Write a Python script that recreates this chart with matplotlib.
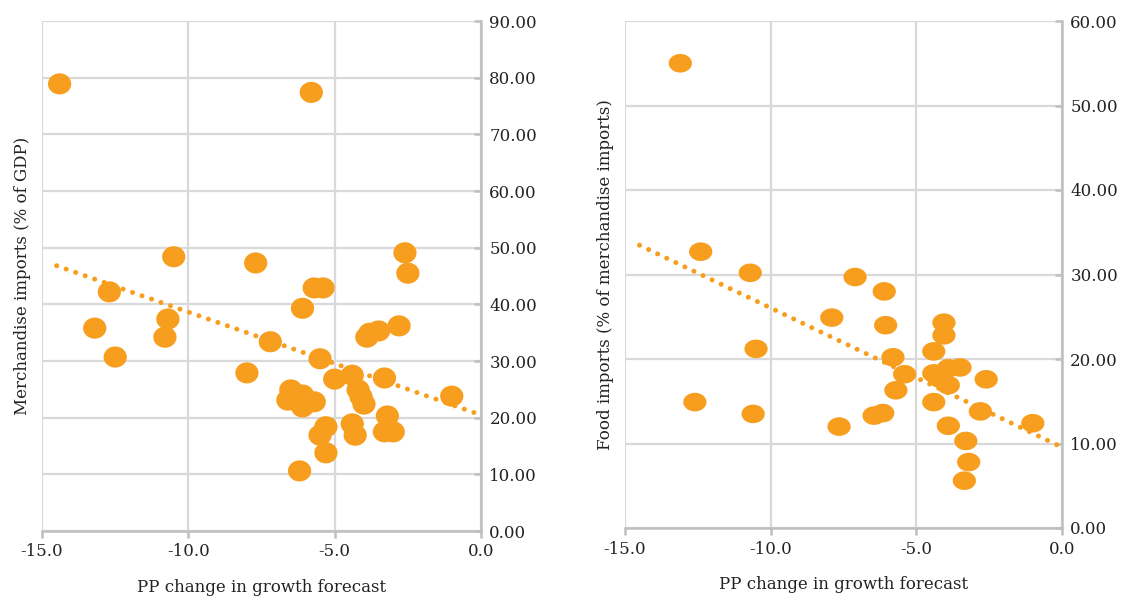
import numpy as np
import matplotlib
matplotlib.use("Agg")
from matplotlib import pyplot as plt
from matplotlib.path import Path

plt.rcParams['font.family'] = ['DejaVu Serif']
plt.rcParams['axes.unicode_minus'] = False

# growth forecast change vs merchandise imports (% of GDP)
merch_x = [-14.4, -5.8, -10.5, -7.7, -2.6, -2.5, -12.7, -5.7, -5.4, -6.1,
           -13.2, -10.7, -10.8, -12.5, -7.2, -3.9, -3.8, -3.5, -2.8, -5.5,
           -8.0, -5.0, -4.4, -3.3, -6.5, -6.1, -6.6, -6.2, -6.1, -5.7,
           -4.2, -4.1, -4.0, -3.2, -3.3, -3.0, -4.4, -4.3, -5.3, -5.5,
           -5.3, -6.2, -1.0]
merch_y = [78.9, 77.4, 48.4, 47.3, 49.1, 45.5, 42.2, 42.9, 42.9, 39.3,
           35.8, 37.4, 34.2, 30.7, 33.4, 34.2, 34.9, 35.3, 36.2, 30.4,
           27.9, 26.8, 27.5, 27.0, 24.9, 24.0, 23.1, 22.8, 21.9, 22.8,
           24.9, 23.7, 22.4, 20.3, 17.5, 17.5, 18.9, 16.9, 18.4, 16.9,
           13.8, 10.6, 23.8]

# growth forecast change vs food imports (% of merchandise imports)
food_x = [-13.1, -12.4, -10.7, -7.1, -6.1, -7.9, -6.05, -10.5, -4.05, -4.05,
          -4.4, -5.8, -5.4, -5.7, -4.4, -3.9, -3.5, -4.2, -3.9, -2.6,
          -4.4, -2.8, -3.9, -3.3, -3.2, -3.35, -1.0, -12.6, -10.6, -7.65,
          -6.45, -6.15]
food_y = [55.0, 32.7, 30.2, 29.7, 28.0, 24.9, 24.0, 21.2, 24.3, 22.8,
          20.9, 20.2, 18.2, 16.3, 18.3, 18.9, 19.0, 17.7, 16.9, 17.6,
          14.9, 13.8, 12.1, 10.3, 7.8, 5.6, 12.4, 14.9, 13.5, 12.0,
          13.3, 13.6]

x_ticks = [-15, -10, -5, 0]
trend_from = -14.5

orange = '#F79E1E'
grid_c = '#d9d9d9'
axis_c = '#bfbfbf'
text_c = '#222222'


def ellipse_marker(stretch):
    t = np.linspace(0, 2 * np.pi, 60)
    verts = np.column_stack([np.cos(t) * stretch, np.sin(t)])
    return Path(verts, closed=True)


def panel(ax, x, y, ymax, ystep, ylabel, stretch):
    x = np.array(x)
    y = np.array(y)
    ax.set_xlim(-15, 0)
    ax.set_ylim(0, ymax)
    ax.set_xticks(x_ticks)
    ax.set_yticks(np.arange(0, ymax + 1, ystep))
    ax.xaxis.set_major_formatter('{x:.1f}')
    ax.yaxis.set_major_formatter('{x:.2f}')
    ax.yaxis.tick_right()
    ax.grid(True, color=grid_c, lw=1.6)
    ax.set_axisbelow(True)
    for s in ['left', 'top']:
        ax.spines[s].set_visible(False)
    for s in ['right', 'bottom']:
        ax.spines[s].set_color(axis_c)
        ax.spines[s].set_linewidth(1.8)
    ax.tick_params(axis='y', direction='in', length=5, width=1.8, color=axis_c,
                   labelsize=12, pad=6, labelcolor=text_c)
    ax.tick_params(axis='x', direction='out', length=5, width=1.8, color=axis_c,
                   labelsize=12, pad=4, labelcolor=text_c)

    ax.scatter(x, y, s=280, marker=ellipse_marker(stretch), color=orange,
               edgecolors='none', zorder=3, clip_on=False)

    # linear trend, drawn to zero
    k, b = np.polyfit(x, y, 1)
    tx = np.array([trend_from, 0])
    ax.plot(tx, k * tx + b, color=orange, lw=3.6, ls=(0, (0.01, 2.0)),
            dash_capstyle='round', zorder=4, clip_on=False)

    ax.set_xlabel('PP change in growth forecast', fontsize=12, labelpad=13,
                  color=text_c)
    ax.set_ylabel(ylabel, fontsize=12, labelpad=8, color=text_c)


fig = plt.figure(figsize=(11.21, 6.0), dpi=100)
fig.set_facecolor('white')

ax1 = fig.add_axes([0.0375, 0.115, 0.3916, 0.85])
panel(ax1, merch_x, merch_y, 90, 10, 'Merchandise imports (% of GDP)', 1.1)

ax2 = fig.add_axes([0.5575, 0.12, 0.3898, 0.845])
panel(ax2, food_x, food_y, 60, 10, 'Food imports (% of merchandise imports)', 1.25)

fig.savefig('out.png', dpi=100)
